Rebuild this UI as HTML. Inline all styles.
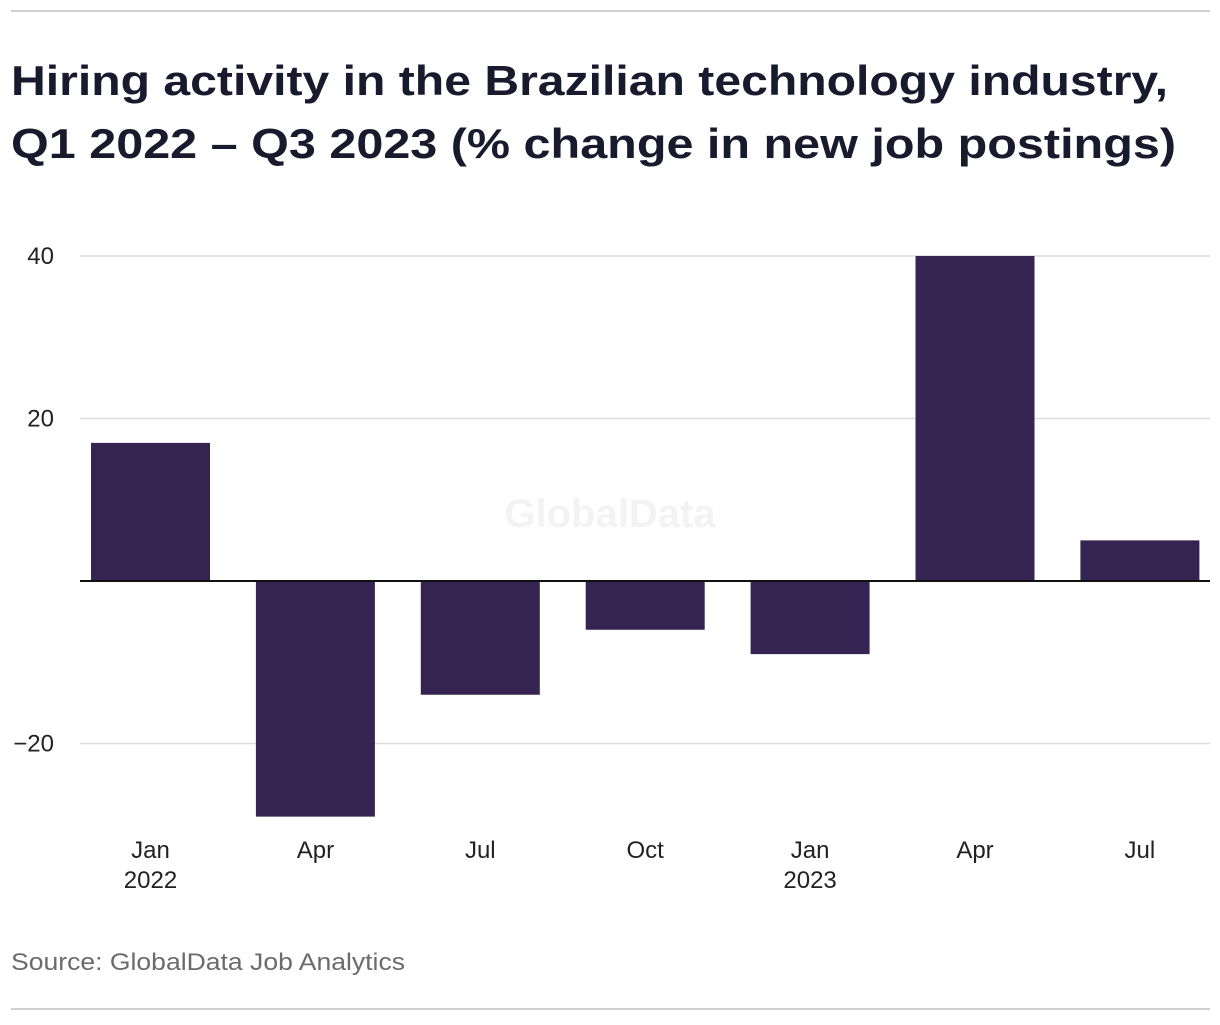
<!DOCTYPE html>
<html><head><meta charset="utf-8"><style>
body{margin:0;background:#fff;width:1220px;height:1020px;overflow:hidden;font-family:"Liberation Sans",sans-serif}
</style></head><body>
<svg width="1220" height="1020" xmlns="http://www.w3.org/2000/svg">
<line x1="11" y1="11" x2="1210" y2="11" stroke="#d0d0d0" stroke-width="2"/>
<text x="11" y="95" font-size="42" font-weight="bold" fill="#1a1a2e" textLength="1157" lengthAdjust="spacingAndGlyphs">Hiring activity in the Brazilian technology industry,</text>
<text x="11" y="158" font-size="42" font-weight="bold" fill="#1a1a2e" textLength="1165" lengthAdjust="spacingAndGlyphs">Q1 2022 – Q3 2023 (% change in new job postings)</text>
<text x="610" y="527" font-size="40" font-weight="bold" fill="#f3f3f3" text-anchor="middle">GlobalData</text>
<g id="grid"></g><g id="bars"></g><g id="xlabels"></g>
<text x="11" y="970" font-size="24" fill="#6b6b6b" textLength="394" lengthAdjust="spacingAndGlyphs">Source: GlobalData Job Analytics</text>
<line x1="11" y1="1009" x2="1210" y2="1009" stroke="#d0d0d0" stroke-width="2"/>
</svg>
<script>
const categories=["Jan","Apr","Jul","Oct","Jan","Apr","Jul"];
const years=["2022","","","","2023","",""];
const values=[17,-29,-14,-6,-9,40,5];
const yTicks=[40,20,-20];
const yTickLabels=["40","20","\u221220"];
const NS="http://www.w3.org/2000/svg";
const y0=581,ppu=8.125;
function yScale(v){return y0-v*ppu;}
function xCenter(i){return 150.5+i*164.9;}
const bw=119;
function mk(t,a,txt){const e=document.createElementNS(NS,t);for(const k in a)e.setAttribute(k,a[k]);if(txt!==undefined)e.textContent=txt;return e;}
const grid=document.getElementById('grid'),bars=document.getElementById('bars'),xl=document.getElementById('xlabels');
yTicks.forEach((t,i)=>{
 const l=mk('line',{x1:80,x2:1210,y1:yScale(t),y2:yScale(t),stroke:'#dcdcdc','stroke-width':1.5});
 
 
 grid.appendChild(l);
 const tx=mk('text',{x:54,y:yScale(t)+8,'font-size':24,fill:'#222','text-anchor':'end'},yTickLabels[i]);
 
 
 grid.appendChild(tx);
});
values.forEach((v,i)=>{
 const top=Math.min(yScale(v),y0),h=Math.abs(yScale(v)-y0);
 const r=mk('rect',{x:xCenter(i)-bw/2,y:top,width:bw,height:h,fill:'#352451'});
 
 
 bars.appendChild(r);
 const t=mk('text',{x:xCenter(i),y:858,'font-size':24,fill:'#222','text-anchor':'middle'},categories[i]);
 
 
 xl.appendChild(t);
 if(years[i]){const y=mk('text',{x:xCenter(i),y:888,'font-size':24,fill:'#222','text-anchor':'middle'},years[i]);
 
 
 xl.appendChild(y);}
});
const zl=mk('line',{x1:80,x2:1210,y1:y0,y2:y0,stroke:'#111','stroke-width':2});


bars.appendChild(zl);
</script>
</body></html>
